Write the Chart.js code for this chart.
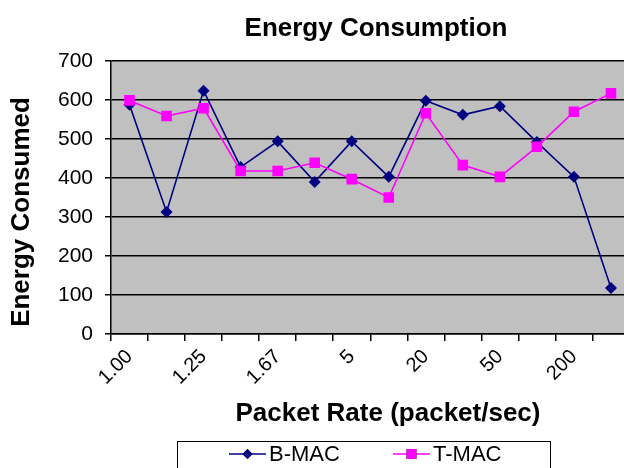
<!DOCTYPE html>
<html>
<head>
<meta charset="utf-8">
<script src="https://cdn.jsdelivr.net/npm/chart.js@4/dist/chart.umd.min.js"></script>
<style>
  html, body { margin: 0; padding: 0; background: #fff; overflow: hidden; }
  #wrap { position: relative; width: 637px; height: 468px; }
</style>
</head>
<body>
<div id="wrap"><canvas id="c" width="637" height="468"></canvas></div>
<script>
// Packet rates (packet/sec); every other one is labelled on the axis
const packetRates = ['1.00', '1.11', '1.25', '1.43', '1.67', '2.50', '5', '10', '20', '33.3', '50', '100', '200', '1000'];
// Energy consumed per protocol
const bmacEnergy = [588, 313, 624, 428, 494, 390, 494, 403, 598, 562, 584, 492, 403, 118];
const tmacEnergy = [599, 559, 579, 418, 418, 439, 397, 350, 566, 433, 403, 480, 570, 617];
const yTicks = [0, 100, 200, 300, 400, 500, 600, 700];

const FONT = '"Liberation Sans", Arial, sans-serif';

// Grey plot background
const plotBackground = {
  id: 'plotBackground',
  beforeDraw(chart) {
    const { ctx, chartArea: a } = chart;
    ctx.save();
    ctx.fillStyle = '#c0c0c0';
    ctx.fillRect(a.left, a.top, a.right - a.left, a.bottom - a.top);
    ctx.restore();
  }
};

// Titles and boxed legend
const annotations = {
  id: 'annotations',
  afterDraw(chart) {
    const { ctx } = chart;
    ctx.save();
    ctx.fillStyle = '#000';
    ctx.font = 'bold 26px ' + FONT;
    ctx.textAlign = 'center';
    ctx.textBaseline = 'alphabetic';
    ctx.fillText('Energy Consumption', 376, 36);
    ctx.fillText('Packet Rate (packet/sec)', 388, 421);

    ctx.save();
    ctx.translate(29, 212);
    ctx.rotate(-Math.PI / 2);
    ctx.fillText('Energy Consumed', 0, 0);
    ctx.restore();

    // legend box
    ctx.strokeStyle = '#000';
    ctx.lineWidth = 1;
    ctx.strokeRect(177.5, 441.5, 373, 40);

    const items = [
      { x: 229, textX: 269 },
      { x: 393, textX: 433 }
    ];
    ctx.font = '22px ' + FONT;
    ctx.textAlign = 'left';
    ctx.textBaseline = 'middle';
    chart.data.datasets.forEach((ds, i) => {
      const it = items[i];
      const y = 454;
      ctx.strokeStyle = ds.borderColor;
      ctx.lineWidth = 1.5;
      ctx.beginPath();
      ctx.moveTo(it.x, y);
      ctx.lineTo(it.x + 37, y);
      ctx.stroke();
      Chart.helpers.drawPoint(ctx, {
        pointStyle: ds.pointStyle,
        radius: ds.legendRadius,
        rotation: 0,
        borderWidth: 0
      }, it.x + 18.5, y);
      ctx.fillStyle = ds.pointBackgroundColor;
      ctx.fill();
      ctx.fillStyle = '#000';
      ctx.fillText(ds.label, it.textX, y + 1);
    });
    ctx.restore();
  }
};

new Chart(document.getElementById('c'), {
  type: 'line',
  data: {
    labels: packetRates,
    datasets: [
      {
        label: 'B-MAC',
        data: bmacEnergy,
        borderColor: '#000080',
        backgroundColor: '#000080',
        pointBackgroundColor: '#000080',
        pointBorderColor: '#000080',
        pointStyle: 'rectRot',
        pointRadius: 6,
        legendRadius: 5,
        pointBorderWidth: 0,
        borderWidth: 1.6,
        tension: 0,
        order: 1
      },
      {
        label: 'T-MAC',
        data: tmacEnergy,
        borderColor: '#ff00ff',
        backgroundColor: '#ff00ff',
        pointBackgroundColor: '#ff00ff',
        pointBorderColor: '#ff00ff',
        pointStyle: 'rect',
        pointRadius: 7.5,
        legendRadius: 7,
        pointBorderWidth: 0,
        borderWidth: 1.6,
        tension: 0,
        order: 0
      }
    ]
  },
  options: {
    responsive: false,
    animation: false,
    events: [],
    layout: { padding: { left: 0, top: 61, right: 2, bottom: 0 } },
    plugins: {
      legend: { display: false },
      title: { display: false },
      tooltip: { enabled: false }
    },
    scales: {
      x: {
        offset: true,
        afterFit(scale) {
          scale.height = 134;
          scale.paddingLeft = 0;
          scale.paddingRight = 0;
        },
        grid: {
          offset: true,
          drawOnChartArea: false,
          drawTicks: true,
          tickLength: 7,
          color: '#000',
          lineWidth: 1.5
        },
        border: { color: '#000', width: 1.5 },
        ticks: {
          autoSkip: false,
          minRotation: 45,
          maxRotation: 45,
          padding: 4,
          color: '#000',
          font: { family: FONT, size: 20 },
          callback(value, index) {
            return index % 2 === 0 ? packetRates[index] : '';
          }
        }
      },
      y: {
        min: 0,
        max: 700,
        afterFit(scale) { scale.width = 111; },
        afterBuildTicks(scale) { scale.ticks = yTicks.map(v => ({ value: v })); },
        grid: {
          color: '#000',
          lineWidth: 1.5,
          tickLength: 6
        },
        border: { color: '#000', width: 1.5 },
        ticks: {
          padding: 12,
          color: '#000',
          font: { family: FONT, size: 21 }
        }
      }
    }
  },
  plugins: [plotBackground, annotations]
});
</script>
</body>
</html>
